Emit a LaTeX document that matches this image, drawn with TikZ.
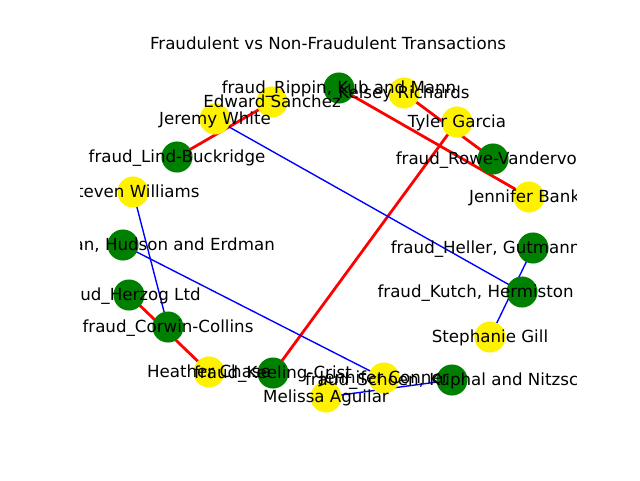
\documentclass[tikz,border=0pt]{standalone}
\usepackage{fontspec}
\setmainfont{DejaVu Sans}
\usetikzlibrary{backgrounds}
\definecolor{mplgreen}{RGB}{0,128,0}
\begin{document}
\begin{tikzpicture}[x=0.75pt,y=-0.75pt,
  fraudnode/.style={circle,fill=mplgreen,draw=none,minimum size=23.3pt,inner sep=0pt},
  usernode/.style={circle,fill=yellow,draw=none,minimum size=23.3pt,inner sep=0pt},
  lbl/.style={font=\fontsize{12.5}{15}\selectfont,inner sep=0pt,anchor=center,text height=0.76em,text depth=0.24em,yshift=-1.2pt},
  fraudedge/.style={draw=red,line width=2.08pt},
  normaledge/.style={draw=blue,line width=1.04pt}]
\useasboundingbox (0,0) rectangle (640,480);
\node[font=\fontsize{12.5}{15}\selectfont,inner sep=0pt,anchor=base] (title) at (328,49) {Fraudulent vs Non-Fraudulent Transactions};
% merchants
\node[fraudnode] (rip) at (339,88) {};
\node[fraudnode] (lind) at (177,157) {};
\node[fraudnode] (rowe) at (493,159) {};
\node[fraudnode] (hud) at (123,245) {};
\node[fraudnode] (hel) at (533,248) {};
\node[fraudnode] (kut) at (522,292) {};
\node[fraudnode] (her) at (129,295) {};
\node[fraudnode] (cor) at (168,327) {};
\node[fraudnode] (kee) at (273,373) {};
\node[fraudnode] (sch) at (452,380) {};
% customers
\node[usernode] (edw) at (272,102) {};
\node[usernode] (jer) at (215,119) {};
\node[usernode] (kel) at (404,93) {};
\node[usernode] (tyl) at (457,122) {};
\node[usernode] (jen) at (529,197) {};
\node[usernode] (ste) at (133,192) {};
\node[usernode] (steph) at (490,337) {};
\node[usernode] (hea) at (209,372) {};
\node[usernode] (con) at (384,378) {};
\node[usernode] (mel) at (326,397) {};
\begin{scope}[on background layer]
\draw[fraudedge] (lind.center) -- (edw.center);
\draw[fraudedge] (rip.center) -- (jen.center);
\draw[fraudedge] (kel.center) -- (rowe.center);
\draw[fraudedge] (tyl.center) -- (kee.center);
\draw[fraudedge] (her.center) -- (hea.center);
\draw[normaledge] (jer.center) -- (kut.center);
\draw[normaledge] (ste.center) -- (cor.center);
\draw[normaledge] (hud.center) -- (con.center);
\draw[normaledge] (hel.center) -- (steph.center);
\draw[normaledge] (mel.center) -- (sch.center);
\end{scope}
\begin{scope}
\clip (80,57.6) rectangle (576,427.2);
\node[lbl] (rip-l) at (rip) {fraud\_Rippin, Kub and Mann};
\node[lbl] (lind-l) at (lind) {fraud\_Lind-Buckridge};
\node[lbl] (rowe-l) at (rowe) {fraud\_Rowe-Vandervort};
\node[lbl] (hud-l) at (hud) {fraud\_Stroman, Hudson and Erdman};
\node[lbl] (hel-l) at (hel) {fraud\_Heller, Gutmann and Zieme};
\node[lbl] (kut-l) at (kut) {fraud\_Kutch, Hermiston and Farrell};
\node[lbl] (her-l) at (her) {fraud\_Herzog Ltd};
\node[lbl] (cor-l) at (cor) {fraud\_Corwin-Collins};
\node[lbl] (kee-l) at (kee) {fraud\_Keeling-Crist};
\node[lbl] (sch-l) at (sch) {fraud\_Schoen, Kuphal and Nitzsche};
\node[lbl] (edw-l) at (edw) {Edward Sanchez};
\node[lbl] (jer-l) at (jer) {Jeremy White};
\node[lbl] (kel-l) at (kel) {Kelsey Richards};
\node[lbl] (tyl-l) at (tyl) {Tyler Garcia};
\node[lbl] (jen-l) at (jen) {Jennifer Banks};
\node[lbl] (ste-l) at (ste) {Steven Williams};
\node[lbl] (steph-l) at (steph) {Stephanie Gill};
\node[lbl] (hea-l) at (hea) {Heather Chase};
\node[lbl] (con-l) at (con) {Jennifer Conner};
\node[lbl] (mel-l) at (mel) {Melissa Aguilar};
\end{scope}
\end{tikzpicture}
\end{document}
